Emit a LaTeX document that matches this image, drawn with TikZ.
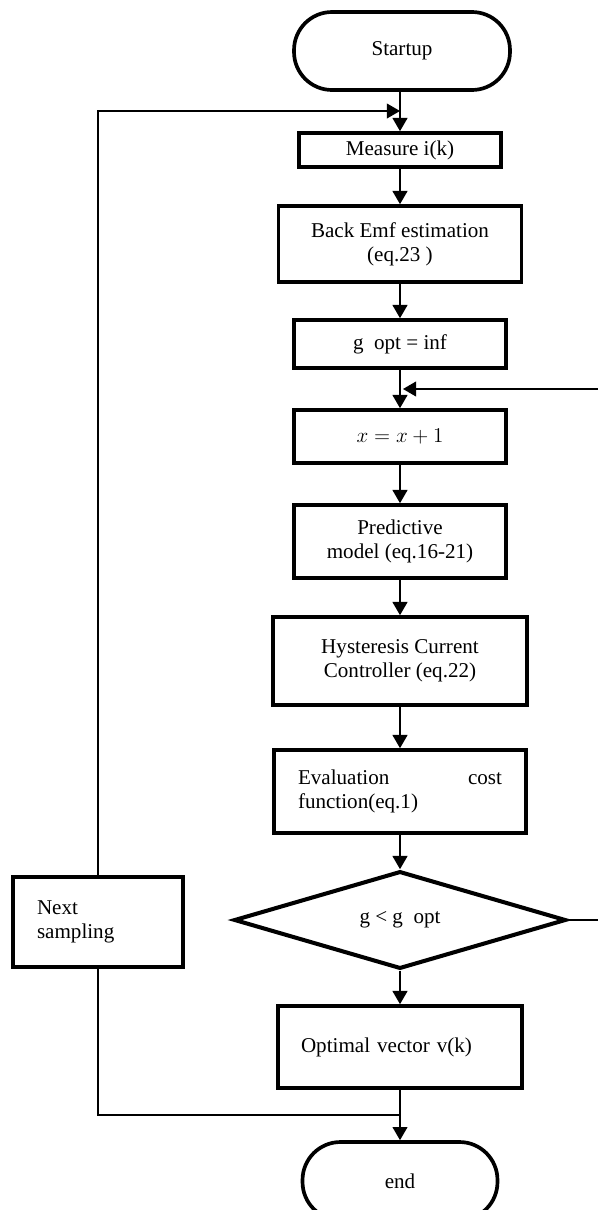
\documentclass[tikz,border=0pt]{standalone}
\usepackage{fontspec}
\setmainfont{Liberation Serif}
\usepackage{tikz}
\usetikzlibrary{shapes.geometric,arrows.meta}
\tikzset{
processbox/.style={rectangle, draw=black!100, fill=none, line width=2.1pt, inner sep=2pt, align=center, font=\fontsize{12}{13.6}\selectfont},
terminalbox/.style={rectangle, rounded corners=0.76cm, draw=black!100, fill=none, line width=2.1pt, inner sep=2pt, minimum height=1.56cm, font=\fontsize{12}{13.6}\selectfont},
decisionbox/.style={diamond, draw=black!100, fill=none, line width=2.3pt, inner sep=0pt, minimum width=6.64cm, minimum height=1.8cm, font=\fontsize{12}{13.6}\selectfont},
flowarrow/.style={line width=0.75pt, -{Triangle[length=7.5pt,width=8.5pt]}},
loopline/.style={line width=0.6pt},
}
\begin{document}
\begin{tikzpicture}[x=0.02cm, y=-0.02cm]
        \useasboundingbox (0,0) rectangle (598,1210);
        \node[terminalbox, minimum width=4.32cm] at (402,51) (startup) {Startup};
        \node[processbox, minimum width=4.04cm, minimum height=0.68cm] at (400,150) (measure) {Measure i(k)};
        \node[processbox, minimum width=4.86cm, minimum height=1.52cm] at (400,244) (backemf) {Back Emf estimation\\(eq.23 )};
        \node[processbox, minimum width=4.24cm, minimum height=0.96cm] at (400,344) (gopt) {g~~opt = inf};
        \node[processbox, minimum width=4.24cm, minimum height=1.06cm] at (400,436.5) (xinc) {$x = x + 1$};
        \node[processbox, minimum width=4.24cm, minimum height=1.46cm] at (400,541.5) (predict) {Predictive\\model (eq.16-21)};
        \node[processbox, minimum width=5.08cm, minimum height=1.76cm] at (400,661) (hyster) {Hysteresis Current\\Controller (eq.22)};
        \node[processbox, minimum width=5.04cm, minimum height=1.66cm, text width=4.08cm, align=left] at (400,791.5) (evalcost) {Evaluation\hfill cost\\function(eq.1)};
        \node[decisionbox] at (400,920) (decide) {g < g~~opt};
        \node[processbox, minimum width=3.4cm, minimum height=1.8cm, text width=2.44cm, align=left] at (98,922) (nextsamp) {Next\\sampling};
        \node[processbox, minimum width=4.88cm, minimum height=1.64cm, text width=3.96cm, align=left] at (400,1047) (optimal) {Optimal vector v(k)};
        \node[terminalbox, minimum width=3.9cm] at (400,1181) (finish) {end};
        \coordinate (topjoin) at (400,111);
        \coordinate (xjoin) at (403,389);
        \coordinate (rightloop) at (606,920);
        \coordinate (botjoin) at (400,1115);
        \draw[flowarrow] (measure.north |- startup.south) -- (measure);
        \draw[flowarrow] (measure) -- (backemf);
        \draw[flowarrow] (backemf) -- (gopt);
        \draw[flowarrow] (gopt) -- (xinc);
        \draw[flowarrow] (xinc) -- (predict);
        \draw[flowarrow] (predict) -- (hyster);
        \draw[flowarrow] (hyster) -- (evalcost);
        \draw[flowarrow] (evalcost) -- (decide);
        \draw[flowarrow] (decide) -- (optimal);
        \draw[flowarrow] (optimal) -- (finish);
        \draw[loopline] (decide.east) -- (rightloop);
        \draw[flowarrow] (rightloop) |- (xjoin);
        \draw[flowarrow, line width=0.6pt] (nextsamp.north) |- (topjoin);
        \draw[loopline] (nextsamp.south) |- (botjoin);
    \end{tikzpicture}
\end{document}
